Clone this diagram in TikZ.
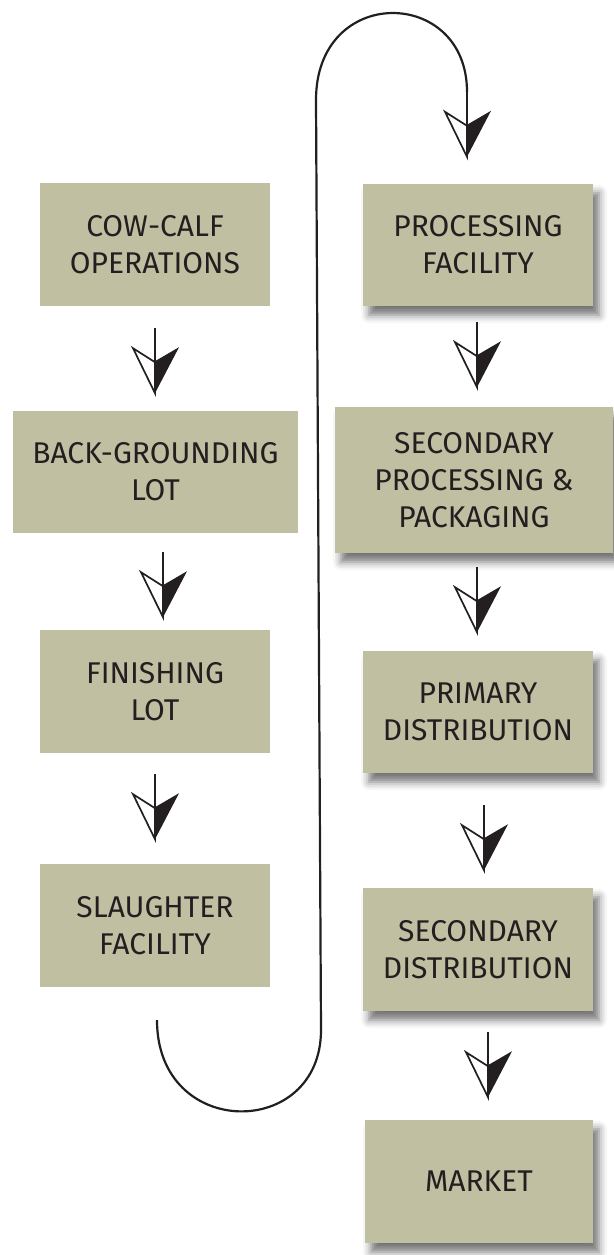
\documentclass[tikz,border=0pt]{standalone}
\usepackage{fontspec}
\setmainfont{Fira Sans}
\usepackage{tikz}
\usetikzlibrary{shadows.blur}
\definecolor{khaki}{RGB}{192,191,161}
\definecolor{inkblack}{RGB}{35,31,32}

\begin{document}
\begin{tikzpicture}[x=1pt, y=-1pt, % 1 Pixel = 1pt, y nach unten
    box/.style={fill=khaki, text=inkblack, align=center, inner sep=0pt,
      font=\fontsize{30}{37}\selectfont, minimum width=230pt, minimum height=123pt},
    shadowbox/.style={box, blur shadow={shadow xshift=6pt, shadow yshift=-9pt,
      shadow blur radius=8pt, shadow opacity=55}},
    stem/.style={draw=inkblack, line width=2.8pt},
    loopline/.style={draw=inkblack, line width=2.2pt},
    dart/.pic={
      \fill[inkblack] (0,-1) -- (24,-15) -- (0,31) -- cycle;
      \filldraw[fill=white, draw=inkblack, line width=1.7pt, line join=miter] (0,0) -- (-22,-14) -- (0,31) -- cycle;
    }]

    \useasboundingbox (0,0) rectangle (613,1255);

    % linke Spalte
    \node[box] (cow) at (155,244.5) {COW-CALF\\OPERATIONS};
    \node[box, minimum width=285pt, minimum height=122pt] (back) at (155.5,472) {BACK-GROUNDING\\LOT};
    \node[box] (fin) at (155,691.5) {FINISHING\\LOT};
    \node[box] (sla) at (155,925.5) {SLAUGHTER\\FACILITY};

    % rechte Spalte
    \node[shadowbox, minimum height=122pt] (proc) at (478,245) {PROCESSING\\FACILITY};
    \node[shadowbox, minimum width=278pt, minimum height=146pt] (secp) at (474,480) {SECONDARY\\PROCESSING \&\\PACKAGING};
    \node[shadowbox, minimum height=122pt] (pdist) at (478,712) {PRIMARY\\DISTRIBUTION};
    \node[shadowbox] (sdist) at (478,949.5) {SECONDARY\\DISTRIBUTION};
    \node[shadowbox, minimum width=228pt] (market) at (479,1181.5) {MARKET};

    % Pfeile zwischen den Kaesten
    \foreach \a/\dx/\dy in {cow/0/22, back/7.5/19, fin/0/21, proc/-1/16,
        secp/3/14, pdist/6/32, sdist/10/21} {
        \draw[stem] ([xshift=\dx pt, yshift=-\dy pt]\a.south) -- ++(0,34) pic{dart};
    }

    % Schleife von links unten nach rechts oben
    \coordinate (loopstart) at ([xshift=2pt, yshift=-33pt]sla.south);
    \coordinate (loopend) at ([xshift=-11pt, yshift=92pt]proc.north);
    \draw[loopline] (loopstart) .. controls +(0,120) and +(0,110) .. (321,1030)
        -- (316,100) .. controls +(0,-116) and +(0,-105) .. (loopend);
    \draw[stem] (loopend) -- ++(0,34) pic{dart};

\end{tikzpicture}
\end{document}
